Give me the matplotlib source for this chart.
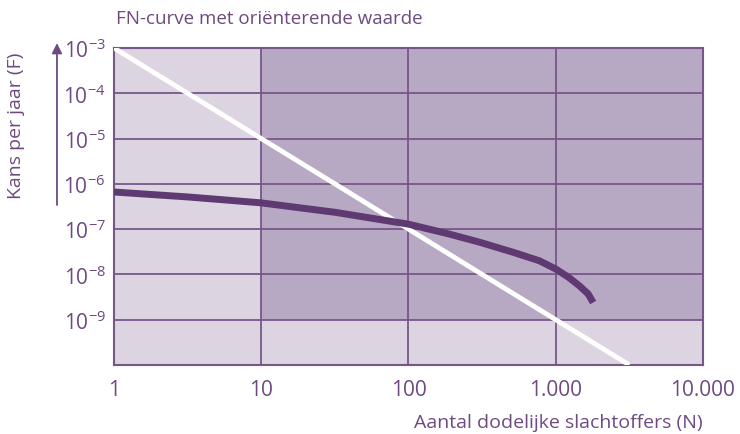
import matplotlib.pyplot as plt
from matplotlib.patches import FancyArrowPatch

# FN-curve data
curve_n = [1, 3.2, 10, 32, 100, 190, 305, 513, 776, 1000, 1230, 1445, 1660, 1795]
curve_logf = [-6.18, -6.29, -6.42, -6.63, -6.89, -7.11, -7.29, -7.51, -7.70,
              -7.88, -8.07, -8.25, -8.43, -8.62]
curve_f = [10 ** v for v in curve_logf]

# orienting value: F = 1e-3 / N^2
norm_n = [1, 10, 100, 1000, 3162]
norm_f = [1e-3, 1e-5, 1e-7, 1e-9, 1e-10]

dark_x = [10, 10000]
dark_y = [1e-9, 1e-3]

x_ticks = [1, 10, 100, 1000, 10000]
x_labels = ["1", "10", "100", "1.000", "10.000"]
y_ticks = [1e-9, 1e-8, 1e-7, 1e-6, 1e-5, 1e-4, 1e-3]
y_labels = [r"$10^{-%d}$" % k for k in [9, 8, 7, 6, 5, 4, 3]]

purple = "#6e4a80"
grid_c = "#77578a"
light = "#dcd4e1"
dark = "#b7a8c3"

plt.rcParams['font.family'] = ['Open Sans', 'DejaVu Sans']
plt.rcParams['mathtext.default'] = 'regular'

fig = plt.figure(figsize=(7.4, 4.35), dpi=100)
ax = fig.add_axes([0.154, 0.1586, 0.796, 0.7288])
ax.set_xscale("log")
ax.set_yscale("log")
ax.set_xlim(1, 10000)
ax.set_ylim(1e-10, 1e-3)
ax.set_facecolor(light)

ax.fill_between(dark_x, dark_y[0], dark_y[1], color=dark, lw=0, zorder=1)

for t in x_ticks[1:-1]:
    ax.axvline(t, color=grid_c, lw=1.3, zorder=2)
for t in y_ticks[:-1]:
    ax.axhline(t, color=grid_c, lw=1.3, zorder=2)

ax.plot(norm_n, norm_f, color="white", lw=3.5, zorder=3, solid_capstyle="butt")
ax.plot(curve_n, curve_f, color="#5f3a72", lw=5, zorder=4,
        solid_joinstyle="round", solid_capstyle="butt")

for s in ax.spines.values():
    s.set_color(grid_c)
    s.set_linewidth(1.5)

ax.set_xticks(x_ticks)
ax.set_xticklabels(x_labels)
ax.set_yticks(y_ticks)
ax.set_yticklabels(y_labels)
ax.minorticks_off()
ax.tick_params(length=0, colors=purple, labelsize=15)
ax.tick_params(axis="x", pad=10)
ax.tick_params(axis="y", pad=6)

fig.text(0.157, 0.957, "FN-curve met oriënterende waarde", color=purple,
         fontsize=13.5, va="center", ha="left")
fig.text(0.95, 0.028, "Aantal dodelijke slachtoffers (N)", color=purple,
         fontsize=14, va="center", ha="right")
fig.text(0.022, 0.71, "Kans per jaar (F)", color=purple, fontsize=14,
         rotation=90, va="center", ha="center")
fig.add_artist(FancyArrowPatch(
    (0.077, 0.52), (0.077, 0.905), transform=fig.transFigure,
    arrowstyle="-|>,head_length=6,head_width=3", color=purple, lw=1.3))

fig.savefig("out.png", dpi=100)
